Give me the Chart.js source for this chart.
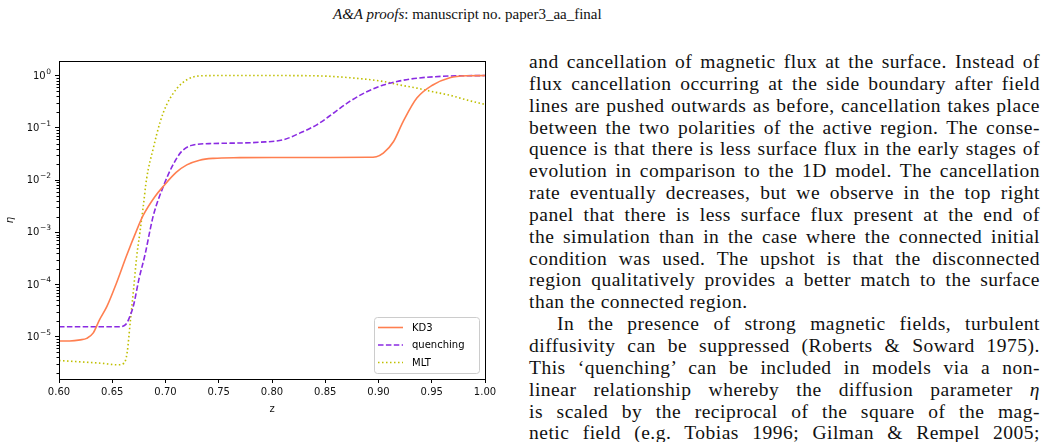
<!DOCTYPE html>
<html>
<head>
<meta charset="utf-8">
<script src="https://cdn.jsdelivr.net/npm/chart.js@4.4.0/dist/chart.umd.min.js"></script>
<style>
  html, body { margin: 0; padding: 0; background: #fff; }
  body { width: 1047px; height: 442px; overflow: hidden; position: relative; font-family: "Liberation Serif", serif; color: #111; }
  #header { position: absolute; left: 333px; top: 4px; font-size: 15px; line-height: 20px; white-space: nowrap; }
  #plot { position: absolute; left: 0; top: 50px; width: 500px; height: 392px; }
  #text { position: absolute; left: 529px; top: 51px; width: 511px; font-size: 19.5px; line-height: 21.85px; letter-spacing: 0.5px; }
  #text .l { height: 21.85px; white-space: nowrap; }
  #text .l span { display: inline-block; }
  #text .ind span { margin-left: 28px; }
</style>
</head>
<body>
<div id="header"><i>A&amp;A proofs</i>: manuscript no. paper3_aa_final</div>
<div id="plot"><canvas id="etaChart"></canvas></div>
<div id="text">
  <div class="l"><span>and cancellation of magnetic flux at the surface. Instead of</span></div>
  <div class="l"><span>flux cancellation occurring at the side boundary after field</span></div>
  <div class="l"><span>lines are pushed outwards as before, cancellation takes place</span></div>
  <div class="l"><span>between the two polarities of the active region. The conse-</span></div>
  <div class="l"><span>quence is that there is less surface flux in the early stages of</span></div>
  <div class="l"><span>evolution in comparison to the 1D model. The cancellation</span></div>
  <div class="l"><span>rate eventually decreases, but we observe in the top right</span></div>
  <div class="l"><span>panel that there is less surface flux present at the end of</span></div>
  <div class="l"><span>the simulation than in the case where the connected initial</span></div>
  <div class="l"><span>condition was used. The upshot is that the disconnected</span></div>
  <div class="l"><span>region qualitatively provides a better match to the surface</span></div>
  <div class="l e"><span>than the connected region.</span></div>
  <div class="l ind"><span>In the presence of strong magnetic fields, turbulent</span></div>
  <div class="l"><span>diffusivity can be suppressed (Roberts &amp; Soward 1975).</span></div>
  <div class="l"><span>This ‘quenching’ can be included in models via a non-</span></div>
  <div class="l"><span>linear relationship whereby the diffusion parameter <i>η</i></span></div>
  <div class="l"><span>is scaled by the reciprocal of the square of the mag-</span></div>
  <div class="l"><span>netic field (e.g. Tobias 1996; Gilman &amp; Rempel 2005;</span></div>
</div>
<script>
// eta profiles
const kd3Z = [0.600, 0.610, 0.620, 0.626, 0.632, 0.638, 0.645, 0.654, 0.6635, 0.673, 0.679, 0.690, 0.698, 0.710, 0.720, 0.732, 0.745, 0.770, 0.800, 0.850, 0.890, 0.898, 0.9045, 0.914, 0.923, 0.936, 0.951, 0.967, 0.983, 1.000];
const kd3Eta = [8.3e-6, 8.3e-6, 8.7e-6, 9.3e-6, 1.17e-5, 2.1e-5, 3.8e-5, 1.07e-4, 3.6e-4, 1.1e-3, 2.1e-3, 4.8e-3, 7.6e-3, 1.4e-2, 1.95e-2, 2.4e-2, 2.6e-2, 2.68e-2, 2.7e-2, 2.7e-2, 2.72e-2, 2.8e-2, 3.26e-2, 5.4e-2, 0.13, 0.37, 0.66, 0.91, 0.99, 1.0];

const quenchZ = [0.600, 0.630, 0.656, 0.6625, 0.666, 0.670, 0.675, 0.681, 0.6855, 0.6886, 0.698, 0.707, 0.715, 0.726, 0.745, 0.789, 0.8106, 0.826, 0.842, 0.8576, 0.873, 0.889, 0.9045, 0.920, 0.936, 0.967, 1.000];
const quenchEta = [1.55e-5, 1.55e-5, 1.55e-5, 1.7e-5, 2.3e-5, 4.0e-5, 1.25e-4, 3.9e-4, 1.1e-3, 2.1e-3, 7.6e-3, 1.95e-2, 3.5e-2, 4.7e-2, 5.0e-2, 5.3e-2, 5.9e-2, 7.9e-2, 0.114, 0.19, 0.32, 0.49, 0.66, 0.79, 0.89, 0.98, 1.0];

const mltZ = [0.600, 0.620, 0.640, 0.655, 0.661, 0.664, 0.667, 0.670, 0.673, 0.676, 0.679, 0.6823, 0.6886, 0.695, 0.701, 0.711, 0.720, 0.732, 0.750, 0.800, 0.840, 0.873, 0.9045, 0.920, 0.936, 0.951, 0.967, 0.983, 1.000];
const mltEta = [3.5e-6, 3.3e-6, 3.1e-6, 2.9e-6, 3.1e-6, 5.0e-6, 2.0e-5, 8.0e-5, 3.5e-4, 1.0e-3, 3.0e-3, 1.07e-2, 4.1e-2, 0.13, 0.275, 0.575, 0.83, 0.985, 1.0, 1.0, 0.99, 0.91, 0.77, 0.66, 0.575, 0.49, 0.42, 0.34, 0.28];

const xTicks = [0.60, 0.65, 0.70, 0.75, 0.80, 0.85, 0.90, 0.95, 1.00];
const xTickLabels = ['0.60', '0.65', '0.70', '0.75', '0.80', '0.85', '0.90', '0.95', '1.00'];
const yTicks = [1e-5, 1e-4, 1e-3, 1e-2, 1e-1, 1];
const yTickBase = '10';
const yTickExp = ['\u22125', '\u22124', '\u22123', '\u22122', '\u22121', '0'];

const Y_MIN = 1.55e-6, Y_MAX = 1.9;
const tickFont = { family: 'DejaVu Sans', size: 10 };

function toPoints(xs, ys) {
    return xs.map((x, i) => ({ x: x, y: ys[i] }));
}

// justify each typeset line to the column width (last line of a paragraph stays ragged)
function justifyLines() {
    document.querySelectorAll('#text .l').forEach(el => {
        if (el.classList.contains('e')) return;
        const span = el.firstElementChild;
        span.style.wordSpacing = '0px';
        const indent = el.classList.contains('ind') ? 28 : 0;
        const free = el.clientWidth - indent - span.getBoundingClientRect().width;
        const gaps = (span.textContent.match(/ /g) || []).length;
        if (gaps) span.style.wordSpacing = (free / gaps) + 'px';
    });
}
justifyLines();
if (document.fonts) document.fonts.ready.then(justifyLines);

// spines, minor log ticks, 10^n labels and the boxed legend
const axesDecor = {
    id: 'axesDecor',
    afterDatasetsDraw(chart) {
        const { ctx, chartArea: a } = chart;
        const y = chart.scales.y;
        ctx.save();
        ctx.strokeStyle = '#000';
        ctx.lineWidth = 1;
        ctx.beginPath();
        for (let e = -6; e <= 0; e++) {
            for (let m = 2; m <= 9; m++) {
                const v = m * Math.pow(10, e);
                if (v < Y_MIN || v > Y_MAX) continue;
                const py = Math.round(y.getPixelForValue(v)) + 0.5;
                ctx.moveTo(a.left, py);
                ctx.lineTo(a.left - 2.5, py);
            }
        }
        ctx.stroke();
        ctx.strokeRect(Math.round(a.left) + 0.5, Math.round(a.top) + 0.5,
            Math.round(a.right - a.left), Math.round(a.bottom - a.top));

        // mathtext-like tick labels: "10" with a raised exponent
        ctx.fillStyle = '#111';
        ctx.textAlign = 'right';
        ctx.textBaseline = 'middle';
        const right = a.left - 8;
        yTicks.forEach((v, i) => {
            const py = y.getPixelForValue(v);
            ctx.font = '7.5px "DejaVu Sans"';
            const ew = ctx.measureText(yTickExp[i]).width;
            ctx.fillText(yTickExp[i], right, py - 4);
            ctx.font = '10px "DejaVu Sans"';
            ctx.fillText(yTickBase, right - ew - 0.5, py + 0.5);
        });
        ctx.restore();
    },
    afterDraw(chart) {
        const { ctx, chartArea: a } = chart;
        const w = 105, h = 56;
        const bx = a.right - 6 - w, by = a.bottom - 6 - h;
        ctx.save();
        ctx.fillStyle = 'rgba(255,255,255,0.8)';
        ctx.strokeStyle = '#cccccc';
        ctx.lineWidth = 1;
        ctx.beginPath();
        ctx.roundRect(bx + 0.5, by + 0.5, w, h, 3);
        ctx.fill();
        ctx.stroke();
        ctx.font = '10px "DejaVu Sans"';
        ctx.textBaseline = 'middle';
        chart.data.datasets.forEach((ds, i) => {
            const ry = by + 10.5 + i * 17.5;
            ctx.strokeStyle = ds.borderColor;
            ctx.lineWidth = ds.borderWidth;
            ctx.setLineDash(ds.borderDash || []);
            ctx.beginPath();
            ctx.moveTo(bx + 4, ry);
            ctx.lineTo(bx + 29, ry);
            ctx.stroke();
            ctx.setLineDash([]);
            ctx.fillStyle = '#000';
            ctx.fillText(ds.label, bx + 38, ry + 0.5);
        });
        ctx.restore();
    }
};

const ctx = document.getElementById('etaChart').getContext('2d');
new Chart(ctx, {
    type: 'line',
    data: {
        datasets: [{
            label: 'KD3',
            data: toPoints(kd3Z, kd3Eta),
            borderColor: '#ff7f50',
            borderWidth: 1.6,
            pointRadius: 0,
            cubicInterpolationMode: 'monotone'
        }, {
            label: 'quenching',
            data: toPoints(quenchZ, quenchEta),
            borderColor: '#8a2be2',
            borderWidth: 1.6,
            borderDash: [5.5, 2.4],
            pointRadius: 0,
            cubicInterpolationMode: 'monotone'
        }, {
            label: 'MLT',
            data: toPoints(mltZ, mltEta),
            borderColor: '#bfbf00',
            borderWidth: 1.6,
            borderDash: [1.5, 2.5],
            pointRadius: 0,
            cubicInterpolationMode: 'monotone'
        }]
    },
    options: {
        responsive: true,
        maintainAspectRatio: false,
        animation: false,
        layout: { padding: { top: 11, right: 15, bottom: 23, left: 0 } },
        plugins: { legend: { display: false }, tooltip: { enabled: false } },
        scales: {
            x: {
                type: 'linear',
                min: 0.6,
                max: 1.0,
                afterBuildTicks: scale => { scale.ticks = xTicks.map(v => ({ value: v })); },
                afterFit: scale => { scale.height = 40; },
                ticks: {
                    font: tickFont,
                    color: '#111',
                    padding: 3,
                    maxRotation: 0,
                    callback: (v, i) => xTickLabels[i]
                },
                grid: { drawOnChartArea: false, tickLength: 4, tickColor: '#000', tickWidth: 1 },
                border: { display: false },
                title: { display: true, text: 'z', font: tickFont, color: '#111', padding: { top: 2, bottom: 4 } }
            },
            y: {
                type: 'logarithmic',
                min: Y_MIN,
                max: Y_MAX,
                afterBuildTicks: scale => { scale.ticks = yTicks.map(v => ({ value: v, major: true })); },
                afterFit: scale => { scale.width = 59; },
                ticks: { display: false },
                grid: { drawOnChartArea: false, tickLength: 4, tickColor: '#000', tickWidth: 1 },
                border: { display: false },
                title: { display: true, text: 'η', font: { family: 'DejaVu Sans', size: 10, style: 'italic' }, color: '#111', padding: { top: 4, bottom: 4 } }
            }
        }
    },
    plugins: [axesDecor]
});
</script>
</body>
</html>
